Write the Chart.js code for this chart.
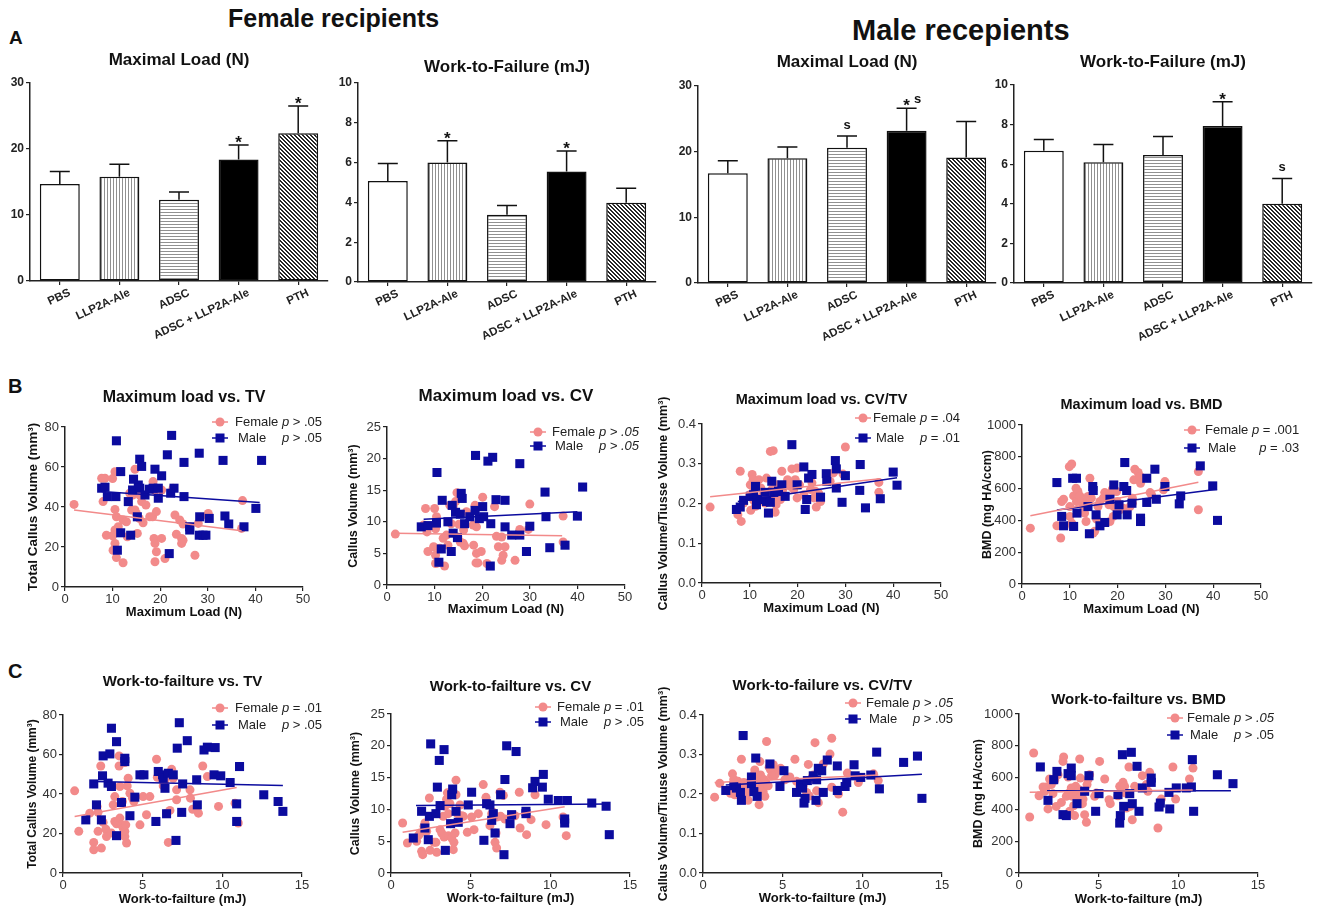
<!DOCTYPE html>
<html>
<head>
<meta charset="utf-8">
<script src="https://cdn.jsdelivr.net/npm/chart.js@4.4.1/dist/chart.umd.min.js"></script>
<style>
body{margin:0;background:#fff;width:1318px;height:910px;position:relative;overflow:hidden;font-family:'Liberation Sans',Arial,sans-serif}
canvas{position:absolute}
.hd{position:absolute;font-weight:bold;color:#111;white-space:nowrap;line-height:1}
</style>
</head>
<body>
<div class="hd" style="left:228px;top:6px;font-size:25px">Female recipients</div>
<div class="hd" style="left:852px;top:16px;font-size:29px">Male recepients</div>
<div class="hd" style="left:9px;top:28px;font-size:19px">A</div>
<div class="hd" style="left:8px;top:376px;font-size:20px">B</div>
<div class="hd" style="left:8px;top:661px;font-size:20px">C</div>
<script>
// ---- row A : bar data ----
const groups = ['PBS', 'LLP2A-Ale', 'ADSC', 'ADSC + LLP2A-Ale', 'PTH'];

const femaleLoad = [14.7, 15.8, 12.3, 18.4, 22.4];
const femaleLoadErr = [1.9, 1.9, 1.2, 2.2, 4.1];
const femaleWork = [5.08, 6.0, 3.38, 5.55, 3.98];
const femaleWorkErr = [0.88, 1.1, 0.46, 1.03, 0.73];
const maleLoad = [16.7, 19.0, 20.6, 23.2, 19.1];
const maleLoadErr = [1.9, 1.7, 1.8, 3.4, 5.5];
const maleWork = [6.68, 6.1, 6.46, 7.93, 4.0];
const maleWorkErr = [0.57, 0.9, 0.94, 1.23, 1.28];

const femaleLoadStar = ['', '', '', '*', '*'];
const femaleWorkStar = ['', '*', '', '*', ''];
const maleLoadStar = ['', '', 's', '* s', ''];
const maleWorkStar = ['', '', '', '*', 's'];

// ---- row B : maximum load vs ... ----
const loadTvF = [[1.9,41.3],[7.7,54.4],[8.4,54.4],[8.0,42.7],[10.0,54.2],[10.5,57.6],[10.5,38.8],[10.8,35.1],[10.5,28.5],[10.0,25.6],[8.7,25.9],[10.5,21.8],[10.1,18.4],[10.8,14.7],[12.2,12.1],[11.2,30.1],[12.2,33.5],[12.9,32.6],[13.1,25.1],[14.0,38.5],[13.6,46.9],[14.2,46.0],[14.7,58.9],[14.7,38.5],[15.0,36.8],[15.2,26.8],[15.6,34.3],[15.7,46.0],[16.1,42.7],[16.4,32.1],[17.0,41.0],[17.8,35.1],[18.4,35.1],[18.5,52.7],[18.9,48.2],[19.2,37.7],[18.7,24.3],[18.9,21.8],[19.2,17.6],[18.9,12.6],[20.3,48.5],[20.3,24.3],[21.0,14.2],[22.7,49.4],[23.1,36.0],[23.4,26.4],[24.1,33.5],[24.5,24.3],[24.5,21.8],[24.8,31.5],[24.8,23.4],[26.2,30.1],[27.3,15.9],[28.0,31.8],[30.1,36.8],[30.1,35.1],[37.3,43.2],[37.1,29.3]];
const loadTvM = [[7.7,49.4],[8.4,49.9],[8.9,45.2],[10.8,73.1],[10.7,45.2],[11.0,18.4],[11.7,57.7],[11.7,27.1],[13.3,42.7],[13.8,25.9],[14.2,48.5],[14.4,53.9],[15.4,51.0],[15.7,63.9],[16.1,60.3],[15.2,35.1],[15.7,49.4],[16.8,46.0],[17.7,48.9],[18.5,49.4],[18.9,58.9],[19.6,49.4],[19.6,44.4],[20.3,55.6],[21.5,66.1],[22.2,46.9],[22.4,75.8],[21.9,16.7],[22.9,49.4],[25.0,45.2],[25.0,62.3],[26.2,30.1],[26.2,28.5],[28.2,66.9],[28.3,35.1],[28.2,25.9],[29.0,25.9],[29.6,25.9],[30.3,34.3],[33.2,63.3],[33.6,35.5],[34.4,31.5],[37.6,30.1],[40.1,39.3],[41.3,63.3]];
const loadTvFitF = [[1.9,38.5],[37.1,28.1]];
const loadTvFitM = [[7.7,47.7],[40.9,42.2]];

const loadCvF = [[1.75,8.05],[7.7,9.5],[8.1,12.1],[8.4,8.4],[8.6,5.3],[10.0,12.1],[10.4,10.8],[10.2,8.9],[9.8,6.05],[10.2,4.7],[10.2,3.4],[10.7,3.5],[11.1,5.8],[11.8,7.4],[12.1,3.0],[12.5,7.9],[12.8,6.3],[13.2,12.6],[13.5,9.7],[13.9,12.4],[14.4,13.2],[14.7,14.6],[14.9,7.6],[15.1,9.6],[15.4,6.8],[16.0,6.6],[16.3,6.2],[16.1,8.7],[16.7,11.6],[18.1,9.5],[18.5,12.6],[18.8,9.2],[18.2,6.3],[18.8,5.0],[18.7,3.5],[19.1,3.5],[19.8,5.3],[20.1,13.9],[21.0,3.4],[22.6,12.4],[23.0,7.7],[23.4,6.05],[24.1,7.6],[24.1,3.9],[24.4,4.7],[24.8,6.05],[26.9,3.9],[27.9,8.8],[29.7,8.8],[30.0,12.8],[37.0,10.9],[37.0,6.8]];
const loadCvM = [[7.2,9.2],[8.6,9.4],[10.4,9.8],[10.5,17.8],[10.9,3.6],[11.6,13.4],[11.4,5.7],[12.8,10.0],[13.5,5.3],[13.7,12.6],[13.9,8.2],[14.4,11.5],[14.8,7.5],[15.4,11.2],[15.6,14.5],[15.8,13.7],[16.3,9.7],[17.4,10.8],[18.5,11.8],[18.6,20.5],[19.4,10.5],[20.1,12.4],[20.3,10.8],[21.2,19.6],[21.7,3.0],[22.2,20.2],[21.8,9.7],[22.9,13.5],[24.8,13.4],[24.8,9.2],[26.2,7.9],[27.9,19.2],[27.9,7.9],[29.3,5.3],[30.0,9.3],[33.2,14.7],[33.4,10.8],[34.2,5.9],[37.4,6.3],[40.0,10.9],[41.1,15.5]];
const loadCvFitF = [[1.75,8.2],[36.8,7.8]];
const loadCvFitM = [[7.7,10.4],[40.0,11.6]];

const loadRatioF = [[1.7,0.191],[7.5,0.172],[8.2,0.155],[8.0,0.281],[8.7,0.201],[10.0,0.222],[10.1,0.247],[10.2,0.183],[10.5,0.273],[10.7,0.26],[10.8,0.231],[10.8,0.208],[11.2,0.193],[11.5,0.245],[11.6,0.214],[11.9,0.26],[12.3,0.239],[12.8,0.222],[13.2,0.201],[13.5,0.264],[13.6,0.205],[13.9,0.218],[14.3,0.331],[14.9,0.333],[14.6,0.235],[15.0,0.208],[15.3,0.178],[15.5,0.197],[15.7,0.247],[16.0,0.22],[16.4,0.21],[16.7,0.281],[16.9,0.235],[17.9,0.26],[18.1,0.256],[18.5,0.243],[18.8,0.287],[19.2,0.235],[19.5,0.26],[19.9,0.289],[19.9,0.214],[20.4,0.247],[21.3,0.222],[22.7,0.235],[23.0,0.252],[23.4,0.214],[23.7,0.231],[23.9,0.191],[24.4,0.226],[24.8,0.205],[26.8,0.256],[27.5,0.277],[29.5,0.274],[30.0,0.342],[37.0,0.253],[37.0,0.228]];
const loadRatioM = [[7.2,0.185],[8.0,0.191],[8.7,0.208],[10.1,0.218],[10.8,0.222],[11.2,0.243],[11.4,0.197],[11.6,0.21],[13.2,0.228],[13.5,0.205],[13.9,0.176],[14.3,0.203],[14.6,0.256],[15.0,0.228],[16.0,0.231],[16.7,0.247],[17.4,0.218],[18.8,0.348],[19.9,0.247],[21.3,0.292],[21.6,0.185],[21.9,0.21],[22.3,0.264],[23.0,0.273],[24.8,0.216],[26.0,0.275],[26.1,0.256],[27.9,0.308],[28.1,0.287],[28.1,0.239],[29.3,0.203],[30.0,0.27],[33.1,0.298],[33.0,0.233],[34.2,0.189],[37.3,0.212],[40.0,0.279],[40.8,0.246]];
const loadRatioFitF = [[1.7,0.217],[37.3,0.262]];
const loadRatioFitM = [[7.5,0.205],[40.8,0.265]];

const loadBmdF = [[1.75,351],[7.3,366],[8.1,289],[8.3,519],[8.7,533],[9.9,738],[10.4,755],[10.0,487],[10.0,425],[10.4,383],[10.6,362],[10.8,554],[11.3,602],[11.4,519],[11.7,582],[12.1,554],[12.4,519],[12.8,492],[13.1,446],[13.4,393],[13.5,513],[13.8,550],[14.2,665],[14.5,540],[14.9,320],[15.2,331],[15.6,408],[15.9,487],[16.3,519],[17.0,540],[17.3,575],[17.7,550],[18.2,498],[18.4,393],[18.5,567],[18.9,596],[19.1,425],[19.2,487],[19.8,582],[19.9,519],[20.5,467],[21.2,477],[21.9,467],[22.6,487],[23.1,508],[23.1,540],[23.4,655],[23.6,722],[24.3,701],[24.7,676],[24.8,634],[26.8,575],[27.1,561],[29.6,592],[29.9,644],[36.9,707],[36.9,467]];
const loadBmdM = [[7.3,638],[8.3,425],[8.7,366],[10.6,665],[10.8,362],[11.4,665],[11.5,446],[13.8,487],[14.1,316],[14.8,613],[14.9,588],[15.5,435],[16.3,366],[17.3,387],[18.4,533],[19.2,623],[19.9,435],[20.3,498],[21.3,613],[21.5,764],[21.9,588],[22.0,435],[23.0,508],[24.8,414],[24.8,393],[26.1,513],[26.1,665],[27.8,722],[28.1,533],[29.9,613],[32.9,504],[33.2,554],[37.3,743],[39.9,617],[40.9,400]];
const loadBmdFitF = [[1.75,429],[36.9,640]];
const loadBmdFitM = [[7.3,466],[40.8,596]];

// ---- row C : work-to-failure vs ... ----
const workTvF = [[0.73,41.6],[0.99,21.1],[1.68,30.3],[1.93,15.5],[1.93,11.8],[2.14,33.7],[2.2,30.7],[2.2,21.1],[2.37,54.2],[2.41,12.6],[2.52,25.6],[2.69,22.2],[2.73,18.5],[3.04,20.2],[3.15,34.5],[3.25,26.1],[3.25,38.7],[3.36,24.9],[3.52,59.3],[3.52,54.2],[3.57,43.8],[3.57,27.8],[3.67,24.4],[3.73,36.2],[3.78,22.7],[3.88,55.9],[3.88,18.5],[3.88,21.1],[3.94,24.4],[3.99,15.2],[4.03,44.1],[4.09,48.0],[4.2,40.4],[4.36,37.9],[4.45,36.2],[4.83,24.4],[5.03,38.7],[5.24,29.5],[5.45,38.7],[5.87,57.6],[5.92,48.5],[6.29,44.1],[6.4,46.8],[6.5,30.3],[6.61,15.5],[6.71,31.7],[6.82,52.5],[6.92,48.0],[7.13,37.1],[7.13,42.1],[7.97,42.1],[8.0,37.9],[8.14,32.3],[8.5,30.3],[8.77,54.2],[9.06,48.8],[9.76,33.7],[10.8,35.3],[11.0,25.3]];
const workTvM = [[1.43,26.9],[1.93,45.1],[2.1,34.5],[2.41,26.9],[2.52,59.3],[2.48,49.2],[2.83,45.5],[2.94,60.3],[3.04,73.3],[3.04,43.8],[3.36,66.5],[3.36,18.9],[3.67,35.7],[3.88,56.4],[3.88,58.1],[4.2,29.0],[4.51,38.4],[4.83,49.7],[5.08,49.7],[5.83,26.1],[5.98,51.4],[6.25,49.7],[6.29,48.0],[6.4,42.9],[6.5,30.0],[6.61,50.5],[6.92,49.7],[7.09,16.5],[7.17,63.2],[7.3,76.1],[7.45,30.7],[7.51,45.1],[7.8,67.0],[8.39,47.2],[8.43,34.5],[8.85,62.3],[9.06,63.7],[9.55,63.5],[9.48,49.7],[9.9,49.2],[10.49,45.8],[10.9,35.0],[10.9,26.1],[11.08,53.9],[12.6,39.6],[13.5,36.2],[13.8,31.2]];
const workTvFitF = [[0.73,28.6],[10.9,43.3]];
const workTvFitM = [[1.93,46.3],[13.8,44.3]];

const workCvF = [[0.73,7.86],[1.03,4.72],[1.61,4.98],[1.72,5.87],[1.82,6.29],[1.92,3.41],[1.99,2.88],[2.07,7.34],[2.13,7.86],[2.24,6.55],[2.41,11.8],[2.45,3.56],[2.7,4.82],[2.82,4.82],[2.87,3.25],[3.08,6.81],[3.18,6.29],[3.28,8.91],[3.33,5.66],[3.39,10.5],[3.49,11.6],[3.54,12.6],[3.6,5.87],[3.6,9.33],[3.7,10.9],[3.74,7.76],[3.81,5.5],[3.91,3.67],[3.95,4.82],[4.02,6.29],[4.08,14.6],[4.08,12.3],[4.16,9.33],[4.33,10.7],[4.43,9.01],[4.54,8.91],[4.79,6.4],[5.06,8.8],[5.21,6.81],[5.48,9.33],[5.79,13.9],[5.96,11.9],[6.21,7.44],[6.32,9.33],[6.42,9.54],[6.53,4.82],[6.59,6.29],[6.63,8.8],[6.63,3.93],[6.84,12.7],[6.88,8.91],[7.05,12.2],[7.15,8.49],[7.78,9.01],[8.05,12.7],[8.1,7.07],[8.51,6.03],[8.79,8.39],[9.04,12.3],[9.73,7.6],[10.8,8.8],[11.0,5.87]];
const workCvM = [[1.4,5.5],[1.92,9.7],[2.13,7.07],[2.34,5.24],[2.41,8.91],[2.49,20.3],[2.82,9.33],[2.91,13.5],[3.03,17.7],[3.08,10.6],[3.33,19.4],[3.41,3.56],[3.74,7.76],[3.81,12.3],[3.87,13.2],[4.08,9.7],[4.22,7.97],[4.85,10.7],[5.06,12.7],[5.83,5.14],[6.0,10.9],[6.21,10.7],[6.32,8.28],[6.42,9.33],[6.53,6.29],[6.88,12.3],[7.09,2.88],[7.15,14.7],[7.26,20.0],[7.47,7.76],[7.57,9.17],[7.85,19.1],[8.47,9.7],[8.47,9.33],[8.89,13.4],[9.04,14.4],[9.5,13.5],[9.56,15.5],[9.87,11.6],[10.5,11.4],[10.9,7.86],[10.9,8.49],[11.07,11.4],[12.6,11.0],[13.5,10.5],[13.7,6.03]];
const workCvFitF = [[0.73,6.4],[10.9,10.4]];
const workCvFitM = [[1.57,10.6],[13.7,10.85]];

const workRatioF = [[0.73,0.192],[1.05,0.227],[1.72,0.202],[1.85,0.251],[1.93,0.237],[1.99,0.198],[2.1,0.221],[2.2,0.232],[2.31,0.209],[2.41,0.288],[2.52,0.219],[2.56,0.229],[2.73,0.204],[2.83,0.184],[2.9,0.229],[3.04,0.24],[3.15,0.221],[3.19,0.248],[3.25,0.261],[3.31,0.234],[3.36,0.212],[3.4,0.198],[3.52,0.173],[3.57,0.282],[3.61,0.248],[3.67,0.229],[3.73,0.217],[3.78,0.206],[3.82,0.237],[3.88,0.194],[3.94,0.229],[3.99,0.333],[4.09,0.221],[4.15,0.268],[4.24,0.261],[4.3,0.246],[4.41,0.274],[4.51,0.248],[4.72,0.261],[4.87,0.265],[5.14,0.236],[5.29,0.24],[5.45,0.243],[5.77,0.288],[5.87,0.232],[6.08,0.219],[6.29,0.221],[6.5,0.204],[6.61,0.275],[6.67,0.195],[6.82,0.24],[6.92,0.248],[7.03,0.33],[7.13,0.208],[7.24,0.178],[7.55,0.276],[7.97,0.301],[8.08,0.341],[8.08,0.217],[8.5,0.2],[8.77,0.154],[9.06,0.253],[9.75,0.229],[10.7,0.251],[11.0,0.234]];
const workRatioM = [[1.43,0.209],[1.93,0.221],[2.1,0.215],[2.35,0.204],[2.41,0.184],[2.52,0.348],[3.04,0.243],[3.04,0.226],[3.19,0.206],[3.31,0.291],[3.4,0.194],[4.2,0.276],[4.83,0.219],[5.08,0.259],[5.87,0.204],[6.12,0.226],[6.25,0.215],[6.34,0.177],[6.4,0.189],[6.55,0.234],[6.92,0.246],[7.09,0.184],[7.13,0.236],[7.24,0.265],[7.45,0.259],[7.55,0.204],[7.8,0.286],[8.43,0.271],[8.43,0.209],[8.92,0.219],[9.02,0.229],[9.48,0.274],[9.55,0.246],[9.9,0.242],[10.53,0.248],[10.9,0.306],[11.07,0.213],[12.59,0.28],[13.46,0.296],[13.74,0.189]];
const workRatioFitF = [[0.73,0.229],[11.0,0.248]];
const workRatioFitM = [[1.43,0.223],[13.74,0.25]];

const workBmdF = [[0.67,352],[0.92,755],[1.26,486],[1.51,541],[1.61,514],[1.72,541],[1.82,403],[1.92,591],[2.03,556],[2.13,499],[2.24,583],[2.34,419],[2.45,618],[2.66,444],[2.76,702],[2.8,730],[2.97,482],[3.08,604],[3.14,503],[3.18,388],[3.28,535],[3.35,482],[3.43,423],[3.49,361],[3.56,545],[3.6,503],[3.7,465],[3.77,524],[3.81,717],[3.85,597],[3.91,486],[3.98,436],[4.02,465],[4.12,367],[4.23,319],[4.27,556],[4.33,587],[4.43,618],[4.75,482],[4.85,503],[5.06,702],[5.38,591],[5.65,461],[5.73,436],[6.21,486],[6.32,545],[6.53,570],[6.63,545],[6.69,503],[6.74,409],[6.9,667],[6.99,419],[7.11,335],[7.26,545],[7.74,612],[7.99,556],[8.09,514],[8.2,633],[8.72,283],[8.93,465],[9.66,667],[9.83,465],[10.7,591],[10.92,660]];
const workBmdM = [[1.34,667],[1.82,457],[2.18,587],[2.38,639],[2.76,367],[2.97,361],[3.08,625],[3.28,660],[3.28,612],[3.64,436],[4.12,514],[4.39,612],[4.81,388],[5.02,499],[6.21,493],[6.32,314],[6.36,361],[6.49,744],[6.57,419],[6.95,499],[7.05,759],[7.11,436],[7.41,671],[7.53,388],[7.74,535],[8.3,597],[8.3,570],[8.79,415],[8.87,440],[9.41,507],[9.46,403],[9.87,535],[10.5,535],[10.82,541],[10.88,713],[10.96,388],[12.45,618],[13.43,562]];
const workBmdFitF = [[0.67,508],[10.9,522]];
const workBmdFitM = [[1.76,518],[13.3,518]];

const PINK = '#F28A8A';
const BLUE = '#0B0B9E';
const FONT = "'Liberation Sans', Arial, sans-serif";

Chart.defaults.font.family = FONT;
Chart.defaults.color = '#222';
Chart.defaults.animation = false;

function makeBox(p) {
    const cv = document.createElement('canvas');
    const left = p.l - p.yW;
    const top = Math.round(p.titleY - p.ts * 0.6);
    cv.width = p.r - left + p.padR;
    cv.height = p.b + p.xH - top;
    cv.style.left = left + 'px';
    cv.style.top = top + 'px';
    document.body.appendChild(cv);
    return { cv: cv, left: left, top: top, padB: p.t - top - p.ts * 1.2 };
}

function fillFor(kind) {
    const t = document.createElement('canvas');
    const c = t.getContext('2d');
    if (kind === 'white') return '#ffffff';
    if (kind === 'black') return '#000000';
    if (kind === 'vert') {
        t.width = 3; t.height = 3;
        c.fillStyle = '#fff'; c.fillRect(0, 0, 3, 3);
        c.fillStyle = '#909090'; c.fillRect(0, 0, 1, 3);
    } else if (kind === 'horiz') {
        t.width = 3; t.height = 3;
        c.fillStyle = '#fff'; c.fillRect(0, 0, 3, 3);
        c.fillStyle = '#909090'; c.fillRect(0, 0, 3, 1);
    } else {
        t.width = 4; t.height = 4;
        c.fillStyle = '#fff'; c.fillRect(0, 0, 4, 4);
        c.fillStyle = '#262626';
        for (let i = 0; i < 4; i++) { c.fillRect(i, i, 1, 1); c.fillRect((i + 1) % 4, i, 1, 1); }
    }
    return c.createPattern(t, 'repeat');
}
const barFills = ['white', 'vert', 'horiz', 'black', 'diag'].map(fillFor);

const errBars = {
    id: 'errBars',
    afterDatasetsDraw(chart, args, o) {
        const ctx = chart.ctx;
        const ys = chart.scales.y;
        const vals = chart.data.datasets[0].data;
        ctx.save();
        ctx.strokeStyle = '#111';
        ctx.fillStyle = '#111';
        ctx.lineWidth = 1.5;
        chart.getDatasetMeta(0).data.forEach((bar, i) => {
            const yt = ys.getPixelForValue(vals[i] + o.err[i]);
            ctx.beginPath();
            ctx.moveTo(bar.x, bar.y);
            ctx.lineTo(bar.x, yt);
            ctx.moveTo(bar.x - 10, yt);
            ctx.lineTo(bar.x + 10, yt);
            ctx.stroke();
            const m = o.marks[i];
            ctx.textAlign = 'center';
            ctx.textBaseline = 'alphabetic';
            if (m === '*') {
                ctx.font = 'bold 17px ' + FONT;
                ctx.fillText('*', bar.x, yt + 3);
            } else if (m === 's') {
                ctx.font = 'bold 13px ' + FONT;
                ctx.fillText('s', bar.x, yt - 7);
            } else if (m === '* s') {
                ctx.font = 'bold 17px ' + FONT;
                ctx.fillText('*', bar.x, yt + 3);
                ctx.font = 'bold 13px ' + FONT;
                ctx.fillText('s', bar.x + 11, yt - 5);
            }
        });
        ctx.restore();
    }
};

const pLegend = {
    id: 'pLegend',
    afterDraw(chart, args, o) {
        if (!o.rows) return;
        const ctx = chart.ctx;
        const normal = '13px ' + FONT, italic = 'italic 13px ' + FONT;
        let end = 0;
        ctx.save();
        ctx.textBaseline = 'middle';
        o.rows.forEach((r, k) => {
            const y = r.y - o.oy, mx = o.mx - o.ox, tx = r.tx - o.ox;
            const col = k === 0 ? PINK : BLUE;
            ctx.strokeStyle = col; ctx.fillStyle = col; ctx.lineWidth = 1.5;
            ctx.beginPath(); ctx.moveTo(mx - 8, y); ctx.lineTo(mx + 8, y); ctx.stroke();
            if (k === 0) { ctx.beginPath(); ctx.arc(mx, y, 4.5, 0, Math.PI * 2); ctx.fill(); }
            else ctx.fillRect(mx - 4.5, y - 4.5, 9, 9);
            ctx.fillStyle = '#222';
            ctx.textAlign = 'left';
            ctx.font = normal;
            ctx.fillText(r.name, tx, y);
            ctx.font = italic;
            const wp = ctx.measureText('p').width;
            ctx.font = r.it ? italic : normal;
            const wr = ctx.measureText(r.rest).width;
            let x0;
            if (k === 0) {
                ctx.font = normal;
                x0 = tx + ctx.measureText(r.name + ' ').width;
                end = x0 + wp + wr;
            } else {
                x0 = end - wp - wr;
            }
            ctx.font = italic; ctx.fillText('p', x0, y);
            ctx.font = r.it ? italic : normal; ctx.fillText(r.rest, x0 + wp, y);
        });
        ctx.restore();
    }
};

function axisBase(p, horiz) {
    return {
        grid: { display: true, drawOnChartArea: false, drawTicks: true, tickLength: 4, color: '#222', lineWidth: 1.2 },
        border: { display: true, color: '#222', width: 1.5 },
        afterFit: horiz ? (s) => { s.height = p.xH; } : (s) => { s.width = p.yW; }
    };
}

function barPanel(p, title, values, err, marks, max, step) {
    const box = makeBox(p);
    const x = axisBase(p, true), y = axisBase(p, false);
    x.grid.offset = false;
    x.ticks = { font: { size: 11.5, weight: 'bold' }, color: '#222', minRotation: 25, maxRotation: 25, autoSkip: false, padding: 1, labelOffset: 10 };
    Object.assign(y, { min: 0, max: max, ticks: { stepSize: step, font: { size: 12, weight: 'bold' }, color: '#222', padding: 2, callback: v => String(v) } });
    new Chart(box.cv, {
        type: 'bar',
        data: {
            labels: groups,
            datasets: [{
                data: values,
                backgroundColor: barFills,
                borderColor: '#111',
                borderWidth: 1.5,
                borderSkipped: false,
                barPercentage: 0.67,
                categoryPercentage: 1
            }]
        },
        options: {
            responsive: false,
            layout: { padding: { top: 0, left: 0, bottom: 0, right: p.padR } },
            plugins: {
                legend: { display: false },
                tooltip: { enabled: false },
                title: { display: true, text: title, fullSize: false, color: '#111', font: { size: p.ts, weight: 'bold' }, padding: { top: 0, bottom: box.padB } },
                errBars: { err: err, marks: marks }
            },
            scales: { x: x, y: y }
        },
        plugins: [errBars]
    });
}

function scatterPanel(p, c) {
    const box = makeBox(p);
    const xy = a => a.map(d => ({ x: d[0], y: d[1] }));
    const x = axisBase(p, true), y = axisBase(p, false);
    Object.assign(x, {
        type: 'linear', min: 0, max: c.xMax,
        ticks: { stepSize: c.xStep, font: { size: 13 }, color: '#333', padding: 1, callback: v => String(v) },
        title: { display: true, text: c.xTitle, color: '#111', font: { size: 13, weight: 'bold' }, padding: 0 }
    });
    Object.assign(y, {
        min: 0, max: c.yMax,
        ticks: { stepSize: c.yStep, font: { size: 13 }, color: '#333', padding: 2, callback: c.yFmt || (v => String(v)) },
        title: { display: true, text: c.yTitle, color: '#111', font: { size: c.yts || 12.5, weight: 'bold' }, padding: 0 }
    });
    new Chart(box.cv, {
        type: 'scatter',
        data: {
            datasets: [
                { type: 'line', data: xy(c.fitF), borderColor: PINK, borderWidth: 1.5, pointRadius: 0, fill: false },
                { type: 'line', data: xy(c.fitM), borderColor: BLUE, borderWidth: 1.5, pointRadius: 0, fill: false },
                { data: xy(c.male), pointStyle: 'rect', pointRadius: 6.4, backgroundColor: BLUE, borderWidth: 0 },
                { data: xy(c.female), pointStyle: 'circle', pointRadius: 4.5, backgroundColor: PINK, borderWidth: 0 }
            ]
        },
        options: {
            responsive: false,
            layout: { padding: { top: 0, left: 0, bottom: 0, right: p.padR } },
            plugins: {
                legend: { display: false },
                tooltip: { enabled: false },
                title: { display: true, text: c.title, fullSize: false, color: '#111', font: { size: p.ts, weight: 'bold' }, padding: { top: 0, bottom: box.padB } },
                pLegend: {
                    ox: box.left, oy: box.top, mx: c.leg.mx,
                    rows: [
                        { name: 'Female', y: c.leg.fy, tx: c.leg.tx, rest: c.pF[0], it: c.pF[1] },
                        { name: 'Male', y: c.leg.my, tx: c.leg.tx + 3, rest: c.pM[0], it: c.pM[1] }
                    ]
                }
            },
            scales: { x: x, y: y }
        },
        plugins: [pLegend]
    });
}

// row A
barPanel({ l: 30, t: 83, r: 328, b: 281, yW: 25, xH: 70, padR: 5, titleY: 60, ts: 17 }, 'Maximal Load (N)', femaleLoad, femaleLoadErr, femaleLoadStar, 30, 10);
barPanel({ l: 358, t: 83, r: 656, b: 282, yW: 25, xH: 70, padR: 5, titleY: 67, ts: 17 }, 'Work-to-Failure (mJ)', femaleWork, femaleWorkErr, femaleWorkStar, 10, 2);
barPanel({ l: 698, t: 86, r: 996, b: 283, yW: 25, xH: 70, padR: 5, titleY: 62, ts: 17 }, 'Maximal Load (N)', maleLoad, maleLoadErr, maleLoadStar, 30, 10);
barPanel({ l: 1014, t: 85, r: 1312, b: 283, yW: 25, xH: 70, padR: 5, titleY: 62, ts: 17 }, 'Work-to-Failure (mJ)', maleWork, maleWorkErr, maleWorkStar, 10, 2);

const ratioFmt = v => v.toFixed(1);

// row B
scatterPanel({ l: 65, t: 427, r: 303, b: 587, yW: 40, xH: 33, padR: 25, titleY: 398, ts: 16 }, {
    title: 'Maximum load vs. TV', xTitle: 'Maximum Load (N)', yTitle: 'Total Callus Volume (mm³)', yts: 13.5,
    xMax: 50, xStep: 10, yMax: 80, yStep: 20,
    female: loadTvF, male: loadTvM, fitF: loadTvFitF, fitM: loadTvFitM,
    leg: { mx: 220, tx: 235, fy: 422, my: 438 }, pF: [' > .05', false], pM: [' > .05', false]
});
scatterPanel({ l: 387, t: 427, r: 625, b: 585, yW: 41, xH: 32, padR: 20, titleY: 396, ts: 17 }, {
    title: 'Maximum load vs. CV', xTitle: 'Maximum Load (N)', yTitle: 'Callus Volume (mm³)',
    xMax: 50, xStep: 10, yMax: 25, yStep: 5,
    female: loadCvF, male: loadCvM, fitF: loadCvFitF, fitM: loadCvFitM,
    leg: { mx: 538, tx: 552, fy: 432, my: 446 }, pF: [' > .05', true], pM: [' > .05', true]
});
scatterPanel({ l: 702, t: 424, r: 941, b: 583, yW: 46, xH: 33, padR: 22, titleY: 400, ts: 14.5 }, {
    title: 'Maximum load vs. CV/TV', xTitle: 'Maximum Load (N)', yTitle: 'Callus Volume/Tiusse Volume (mm³)',
    xMax: 50, xStep: 10, yMax: 0.4, yStep: 0.1, yFmt: ratioFmt,
    female: loadRatioF, male: loadRatioM, fitF: loadRatioFitF, fitM: loadRatioFitM,
    leg: { mx: 863, tx: 873, fy: 418, my: 438 }, pF: [' = .04', false], pM: [' = .01', false]
});
scatterPanel({ l: 1022, t: 425, r: 1261, b: 584, yW: 42, xH: 33, padR: 40, titleY: 405, ts: 14.5 }, {
    title: 'Maximum load vs. BMD', xTitle: 'Maximum Load (N)', yTitle: 'BMD (mg HA/ccm)',
    xMax: 50, xStep: 10, yMax: 1000, yStep: 200,
    female: loadBmdF, male: loadBmdM, fitF: loadBmdFitF, fitM: loadBmdFitM,
    leg: { mx: 1192, tx: 1205, fy: 430, my: 448 }, pF: [' = .001', false], pM: [' = .03', false]
});

// row C
scatterPanel({ l: 63, t: 715, r: 302, b: 873, yW: 38, xH: 34, padR: 25, titleY: 682, ts: 15 }, {
    title: 'Work-to-failture vs. TV', xTitle: 'Work-to-failture (mJ)', yTitle: 'Total Callus Volume (mm³)', yts: 12,
    xMax: 15, xStep: 5, yMax: 80, yStep: 20,
    female: workTvF, male: workTvM, fitF: workTvFitF, fitM: workTvFitM,
    leg: { mx: 220, tx: 235, fy: 708, my: 725 }, pF: [' = .01', false], pM: [' > .05', false]
});
scatterPanel({ l: 391, t: 714, r: 630, b: 873, yW: 43, xH: 33, padR: 15, titleY: 687, ts: 15 }, {
    title: 'Work-to-failture vs. CV', xTitle: 'Work-to-failture (mJ)', yTitle: 'Callus Volume (mm³)',
    xMax: 15, xStep: 5, yMax: 25, yStep: 5,
    female: workCvF, male: workCvM, fitF: workCvFitF, fitM: workCvFitM,
    leg: { mx: 543, tx: 557, fy: 707, my: 722 }, pF: [' = .01', false], pM: [' > .05', false]
});
scatterPanel({ l: 703, t: 715, r: 942, b: 873, yW: 47, xH: 33, padR: 15, titleY: 686, ts: 15 }, {
    title: 'Work-to-failure vs. CV/TV', xTitle: 'Work-to-failture (mJ)', yTitle: 'Callus Volume/Tiuuse Volume (mm³)',
    xMax: 15, xStep: 5, yMax: 0.4, yStep: 0.1, yFmt: ratioFmt,
    female: workRatioF, male: workRatioM, fitF: workRatioFitF, fitM: workRatioFitM,
    leg: { mx: 853, tx: 866, fy: 703, my: 719 }, pF: [' > .05', true], pM: [' > .05', false]
});
scatterPanel({ l: 1019, t: 714, r: 1258, b: 873, yW: 48, xH: 34, padR: 20, titleY: 700, ts: 15 }, {
    title: 'Work-to-failture vs. BMD', xTitle: 'Work-to-failture (mJ)', yTitle: 'BMD (mg HA/ccm)',
    xMax: 15, xStep: 5, yMax: 1000, yStep: 200,
    female: workBmdF, male: workBmdM, fitF: workBmdFitF, fitM: workBmdFitM,
    leg: { mx: 1175, tx: 1187, fy: 718, my: 735 }, pF: [' > .05', true], pM: [' > .05', false]
});
</script>
</body>
</html>
